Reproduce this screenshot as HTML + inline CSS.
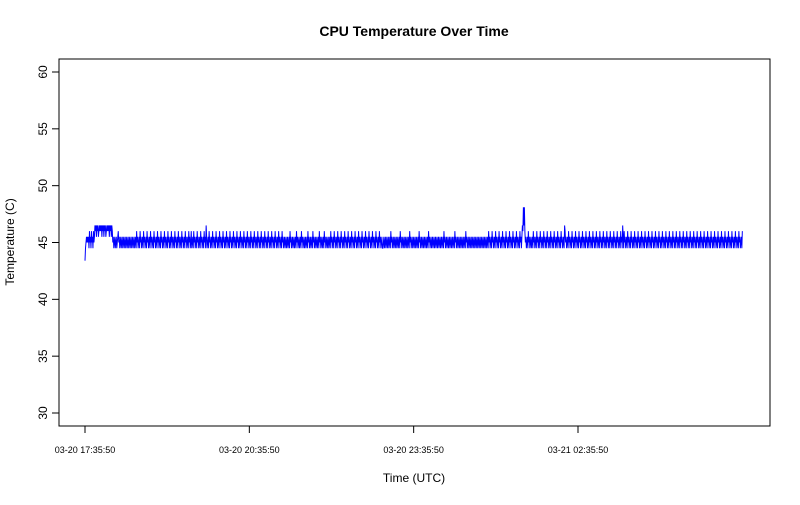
<!DOCTYPE html>
<html><head><meta charset="utf-8"><style>
body{margin:0;background:#fff;}
svg text{font-family:"Liberation Sans",sans-serif;}
</style></head><body>
<svg id="chart" width="800" height="500" xmlns="http://www.w3.org/2000/svg">
<text x="414" y="36" text-anchor="middle" font-size="14" font-weight="bold">CPU Temperature Over Time</text>
<rect x="59" y="59" width="711" height="367" fill="none" stroke="#000" stroke-width="1"/>
<text x="414" y="482" text-anchor="middle" font-size="12">Time (UTC)</text>
<text transform="translate(14,242) rotate(-90)" text-anchor="middle" font-size="12">Temperature (C)</text>
<g id="axes"></g>
<path id="series" fill="none" stroke="#0000ff" stroke-width="1"/>
</svg>
<script>
const yTicks=[30,35,40,45,50,55,60];
const xTickLabels=["03-20 17:35:50","03-20 20:35:50","03-20 23:35:50","03-21 02:35:50"];
const xTickHours=[0,3,6,9];
const totalHours=12;
// level codes: each character is one sample
const levelValues={"0":44.5,"1":45,"2":45.5,"3":46,"4":46.5,"5":43.4,"9":48.1};
const sampleCodes=
"50121212031203120312"+"434243423434342434243423434342434243"+"12012012012312012012012012012012012012012012"+
"0120312012031201203120120312012031201203120120312012031201203120120312012031201203120120312012031201"+
"2031201203120130120312012031201203120120312042012031201203120120312012031201203120120312012031201203"+
"1201203120120312012031201203120120312012031201203120120312012031201203120120312012031201203120120312"+
"0120120120120312012012012031201201203120120120120312012012031201201201203120120120312012012012031201"+
"2031201203120120312012031201203120120312012031201203120120312012031201203120120312012031201203120120"+
"0120120120120120312012012012012012031201201201201201203120120120120120120312012012012012012031201201"+
"2012012012012012012012031201201201201201201203120120120120120120120312012012012012012012012012012012"+
"0120120120120312012031201203120120312012031201203120120312012031201203120120312024394931201203120120"+
"1203120120312012031201203120120312012031201203120120312012031201204312012031201203120120312012031201"+
"2031201203120120312012031201203120120312012031201203120120312012031201203120120312042031201203120120"+
"3120120312012031201203120120312012031201203120120312012031201203120120312012031201203120120312012031"+
"2012031201203120120312012031201203120120312012031201203120120312012031201203120120312012031201203120"+
"1203120120312012031201203";
const temps=sampleCodes.split('').map(c=>levelValues[c]);
const NS="http://www.w3.org/2000/svg";
function xScale(h){return 85+h*(578-85)/9;}
function yScale(v){return 413-(v-30)*(413-72)/30;}
const axes=document.getElementById('axes');
function mk(tag,attrs){const e=document.createElementNS(NS,tag);for(const k in attrs)e.setAttribute(k,attrs[k]);return e;}
yTicks.forEach(v=>{
  const y=yScale(v);
  const t=mk('line',{x1:52,x2:59,y1:y,y2:y,stroke:'#000'});
  
  
  axes.appendChild(t);
  const l=mk('text',{transform:`translate(47,${y}) rotate(-90)`,'text-anchor':'middle','font-size':'12'});
  
  
  l.textContent=v;axes.appendChild(l);
});
xTickHours.forEach((h,i)=>{
  const x=xScale(h);
  const t=mk('line',{x1:x,x2:x,y1:426,y2:433,stroke:'#000'});
  
  
  axes.appendChild(t);
  const l=mk('text',{x:x,y:453,'text-anchor':'middle','font-size':'9'});
  
  
  l.textContent=xTickLabels[i];axes.appendChild(l);
});
const step=totalHours/(temps.length-1);
let d='';
temps.forEach((v,i)=>{d+=(i?'L':'M')+xScale(i*step).toFixed(2)+','+yScale(v).toFixed(2);});
document.getElementById('series').setAttribute('d',d);
</script>
</body></html>
